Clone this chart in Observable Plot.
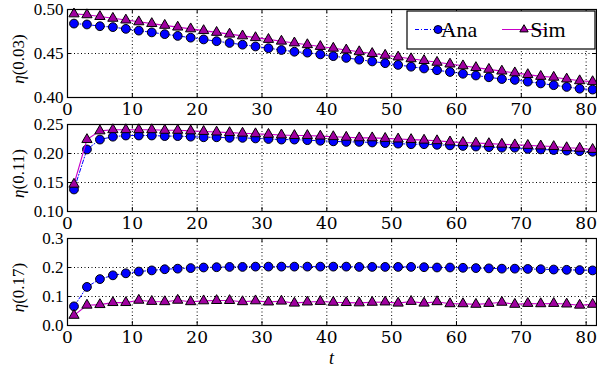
<!DOCTYPE html>
<html><head><meta charset="utf-8">
<script src="https://cdn.jsdelivr.net/npm/d3@7"></script>
<script src="https://cdn.jsdelivr.net/npm/@observablehq/plot@0.6"></script>
<style>
body{margin:0;background:#fff;}
#c svg{display:block;}
</style>
</head><body><div id="c"></div>
<script>
const t = [1,3,5,7,9,11,13,15,17,19,21,23,25,27,29,31,33,35,37,39,41,43,45,47,49,51,53,55,57,59,61,63,65,67,69,71,73,75,77,79,81];

const ana003 = [0.484,0.483,0.481,0.480,0.478,0.476,0.474,0.472,0.470,0.468,0.466,0.464,0.462,0.460,0.458,0.456,0.454,0.452,0.451,0.449,0.447,0.445,0.443,0.441,0.439,0.437,0.435,0.433,0.431,0.429,0.427,0.425,0.423,0.421,0.420,0.418,0.416,0.414,0.412,0.410,0.409];
const sim003 = [0.495,0.494,0.492,0.490,0.488,0.486,0.484,0.482,0.480,0.478,0.476,0.474,0.472,0.470,0.468,0.466,0.464,0.462,0.460,0.458,0.456,0.454,0.452,0.450,0.448,0.446,0.444,0.442,0.440,0.438,0.436,0.434,0.432,0.430,0.428,0.426,0.424,0.423,0.421,0.419,0.418];

const ana011 = [0.138,0.207,0.224,0.229,0.231,0.231,0.231,0.230,0.230,0.229,0.228,0.228,0.227,0.227,0.226,0.225,0.224,0.224,0.223,0.222,0.221,0.220,0.220,0.219,0.218,0.217,0.216,0.216,0.215,0.214,0.213,0.212,0.211,0.210,0.210,0.208,0.207,0.206,0.205,0.204,0.203];
const sim011 = [0.147,0.224,0.239,0.241,0.241,0.241,0.241,0.240,0.240,0.239,0.238,0.237,0.236,0.235,0.234,0.233,0.232,0.231,0.231,0.230,0.229,0.228,0.227,0.227,0.226,0.225,0.224,0.223,0.222,0.220,0.219,0.218,0.217,0.216,0.215,0.214,0.213,0.212,0.210,0.209,0.207];

const ana017 = [0.066,0.133,0.160,0.173,0.180,0.186,0.190,0.194,0.196,0.198,0.200,0.201,0.202,0.202,0.203,0.203,0.203,0.203,0.203,0.203,0.203,0.203,0.202,0.202,0.202,0.202,0.202,0.201,0.200,0.200,0.199,0.198,0.197,0.196,0.196,0.195,0.194,0.193,0.192,0.191,0.190];
const sim017 = [0.035,0.070,0.072,0.079,0.079,0.087,0.083,0.082,0.087,0.082,0.085,0.086,0.086,0.082,0.085,0.081,0.084,0.077,0.081,0.083,0.080,0.079,0.078,0.080,0.081,0.077,0.083,0.077,0.082,0.075,0.075,0.073,0.076,0.080,0.073,0.076,0.075,0.076,0.074,0.070,0.073];

const xTicks = [0,10,20,30,40,50,60,70,80];
const series = ["Ana","Sim"];
const FONT = "'Liberation Serif'";
const FONT_X = "'DejaVu Serif'";
const FONT_L = "Times New Roman";
const FONT_E = "serif";
const W = 597, ML = 67, MR = 1;

function panel({ana, sim, yDomain, yTicks, yFmt, lab, height, mt, mb}) {
  const H = height - mt - mb;
  const PW = W - ML - MR;
  const dA = t.map((x,i)=>({t:x, v:ana[i]}));
  const dS = t.map((x,i)=>({t:x, v:sim[i]}));
  const grid = {stroke:"#000", strokeWidth:1, strokeDasharray:"1,2.5"};
  const svg = Plot.plot({
    width: W, height, marginLeft: ML, marginRight: MR, marginTop: mt, marginBottom: mb,
    style: {fontFamily: FONT, fontSize: "17px", color: "#000", background: "#fff", overflow: "visible"},
    x: {domain: [0, 81.6]},
    y: {domain: yDomain},
    marks: [
      Plot.ruleX(xTicks.filter(d => d > 0), grid),
      Plot.ruleY(yTicks.slice(1, -1), grid),
      Plot.ruleX(xTicks, {stroke:"#000", insetTop: H - 4}),
      Plot.ruleX(xTicks, {stroke:"#000", insetBottom: H - 4}),
      Plot.ruleY(yTicks, {stroke:"#000", insetRight: PW - 4}),
      Plot.ruleY(yTicks, {stroke:"#000", insetLeft: PW - 4}),
      Plot.line(dA, {x:"t", y:"v", stroke:"#0000ff", strokeWidth:1, strokeDasharray:"4,2,1,2"}),
      Plot.dot(dA, {x:"t", y:"v", r:4.4, fill:"#0000ff", stroke:"#000", strokeWidth:1}),
      Plot.line(dS, {x:"t", y:"v", stroke:"#c800c8", strokeWidth:1.1}),
      Plot.dot(dS, {x:"t", y:"v", symbol:"triangle", r:3.8, fill:"#a000a0", stroke:"#000", strokeWidth:1}),
      Plot.frame({stroke:"#000", strokeWidth:1.2}),
      Plot.axisX({ticks: xTicks, tickSize: 0, tickPadding: 5, label: null, fontFamily: FONT_X}),
      Plot.axisY({ticks: yTicks, tickSize: 0, tickPadding: 4, tickFormat: yFmt, label: null, fontFamily: FONT})
    ]
  });
  const s = d3.select(svg);
  const cy = mt + H / 2 + 6;
  const tx = s.append("text")
    .attr("transform", `translate(24,${cy}) rotate(-90)`)
    .attr("text-anchor", "middle")
    .attr("font-family", FONT_E).attr("font-size", 17).attr("fill", "#000");
  tx.append("tspan").attr("font-style", "italic").text("η");
  tx.append("tspan").text(lab);
  return svg;
}

const c = document.getElementById("c");
const p1 = panel({ana: ana003, sim: sim003, yDomain: [0.40, 0.50], yTicks: [0.40, 0.45, 0.50], yFmt: d3.format(".2f"), lab: "(0.03)", height: 116, mt: 9, mb: 19});
const p2 = panel({ana: ana011, sim: sim011, yDomain: [0.10, 0.25], yTicks: [0.10, 0.15, 0.20, 0.25], yFmt: d3.format(".2f"), lab: "(0.11)", height: 114, mt: 8, mb: 19});
const p3 = panel({ana: ana017, sim: sim017, yDomain: [0.0, 0.3], yTicks: [0.0, 0.1, 0.2, 0.3], yFmt: d3.format(".1f"), lab: "(0.17)", height: 142, mt: 8, mb: 47});

// legend in panel 1
{
  const s = d3.select(p1);
  const g = s.append("g");
  g.append("rect").attr("x", 407).attr("y", 11).attr("width", 188).attr("height", 38)
    .attr("fill", "#fff").attr("stroke", "#000").attr("stroke-width", 1.2);
  const ly = 29.5;
  g.append("line").attr("x1", 415).attr("x2", 453).attr("y1", ly).attr("y2", ly)
    .attr("stroke", "#0000ff").attr("stroke-dasharray", "4,2,1,2");
  g.append("circle").attr("cx", 438).attr("cy", ly).attr("r", 4)
    .attr("fill", "#0000ff").attr("stroke", "#000");
  g.append("text").attr("x", 459).attr("y", ly + 7.5).attr("font-family", FONT_L).attr("font-size", 22).attr("fill", "#000").text(series[0]);
  g.append("line").attr("x1", 502).attr("x2", 547).attr("y1", ly).attr("y2", ly)
    .attr("stroke", "#c800c8").attr("stroke-width", 1.1);
  g.append("path").attr("d", d3.symbol(d3.symbolTriangle, 30)()).attr("transform", `translate(524,${ly})`)
    .attr("fill", "#a000a0").attr("stroke", "#000");
  g.append("text").attr("x", 548).attr("y", ly + 7.5).attr("font-family", FONT_L).attr("font-size", 22).attr("fill", "#000").text(series[1]);
}
// x label
d3.select(p3).append("text").attr("x", (ML + W - MR) / 2).attr("y", 134)
  .attr("text-anchor", "middle").attr("font-family", FONT).attr("font-size", 18)
  .attr("font-style", "italic").attr("fill", "#000").text("t");

c.append(p1, p2, p3);
</script>
</body></html>
